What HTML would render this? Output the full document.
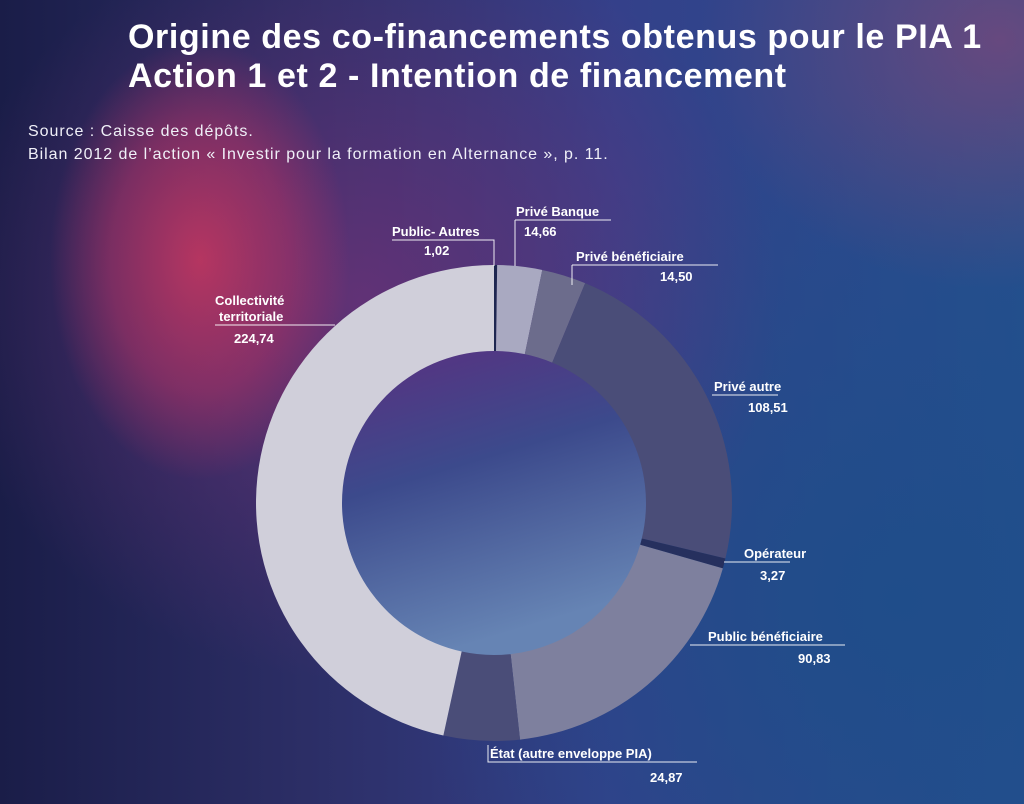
<!DOCTYPE html>
<html><head><meta charset="utf-8"><style>
html,body{margin:0;padding:0}
body{width:1024px;height:804px;overflow:hidden;position:relative;font-family:"Liberation Sans",sans-serif;
background:
radial-gradient(ellipse 150px 220px at 200px 260px, rgba(200,55,95,0.85), rgba(175,50,100,0.55) 60%, rgba(120,50,110,0) 100%),
radial-gradient(ellipse 420px 380px at 360px 300px, rgba(110,50,120,0.8), rgba(80,50,120,0) 100%),
radial-gradient(ellipse 300px 250px at 1000px 40px, rgba(130,70,120,0.7), rgba(100,60,120,0) 100%),
radial-gradient(ellipse 500px 500px at 900px 600px, #1f4d8a, rgba(31,77,138,0) 100%),
linear-gradient(90deg,#1a1d48 0%,#2c2e66 30%,#34408a 60%,#25508e 100%);}
.t{position:absolute;left:128px;top:18px;color:#fff;font-weight:bold;font-size:34px;line-height:39px;letter-spacing:0.6px;white-space:nowrap}
.s{position:absolute;left:28px;top:120px;color:#f0f0f8;font-size:16px;line-height:23px;letter-spacing:0.95px;white-space:nowrap}
svg{position:absolute;left:0;top:0}
text{font-family:"Liberation Sans",sans-serif;fill:#fff;font-size:13px;font-weight:bold}
</style></head><body>
<div class="t">Origine des co-financements obtenus pour le PIA 1<br>Action 1 et 2 - Intention de financement</div>
<div class="s">Source : Caisse des dépôts.<br>Bilan 2012 de l’action « Investir pour la formation en Alternance », p. 11.</div>
<svg width="1024" height="804" viewBox="0 0 1024 804">
<defs><linearGradient id="h" x1="0" y1="0" x2="0.3" y2="1">
<stop offset="0" stop-color="#5a3080"/><stop offset="0.45" stop-color="#3c4a8c"/><stop offset="1" stop-color="#6684b4"/></linearGradient></defs>
<circle cx="494" cy="503" r="153" fill="url(#h)"/>
<g id="d"></g>
<g stroke="#fff" stroke-width="1" fill="none" opacity="0.9">
<path d="M392 240H494V266"/><path d="M515 220H611M515 220V266"/><path d="M572 265H718M572 265V285"/>
<path d="M712 395H778"/><path d="M724 562H790"/><path d="M690 645H845"/><path d="M488 745V762H697"/>
<path d="M215 325H335"/>
</g>
<text x="392" y="236">Public- Autres</text><text x="424" y="255">1,02</text>
<text x="516" y="216">Privé Banque</text><text x="524" y="236">14,66</text>
<text x="576" y="261">Privé bénéficiaire</text><text x="660" y="281">14,50</text>
<text x="714" y="391">Privé autre</text><text x="748" y="412">108,51</text>
<text x="744" y="558">Opérateur</text><text x="760" y="580">3,27</text>
<text x="708" y="641">Public bénéficiaire</text><text x="798" y="663">90,83</text>
<text x="490" y="758">État (autre enveloppe PIA)</text><text x="650" y="782">24,87</text>
<text x="215" y="305">Collectivité</text><text x="219" y="321">territoriale</text><text x="234" y="343">224,74</text>
</svg>
<script>
var v=[[1.02,"#1d2650"],[14.66,"#a9a9c1"],[14.50,"#6c6c8c"],[108.51,"#4a4d78"],[3.27,"#26305e"],[90.83,"#7e809e"],[24.87,"#4a4d78"],[224.74,"#d0cfda"]];
var T=0;v.forEach(function(a){T+=a[0]});
var cx=494,cy=503,R=238,r=152,a0=0,s="";
function p(a,rr){var t=a*Math.PI/180;return [(cx+rr*Math.sin(t)).toFixed(2),(cy-rr*Math.cos(t)).toFixed(2)];}
v.forEach(function(e){var a1=a0+e[0]/T*360,l=(a1-a0)>180?1:0;
var A=p(a0,R),B=p(a1,R),C=p(a1,r),D=p(a0,r);
s+='<path fill="'+e[1]+'" d="M'+A+'A'+R+' '+R+' 0 '+l+' 1 '+B+'L'+C+'A'+r+' '+r+' 0 '+l+' 0 '+D+'Z"/>';a0=a1;});
document.getElementById("d").innerHTML=s;
</script>
</body></html>
